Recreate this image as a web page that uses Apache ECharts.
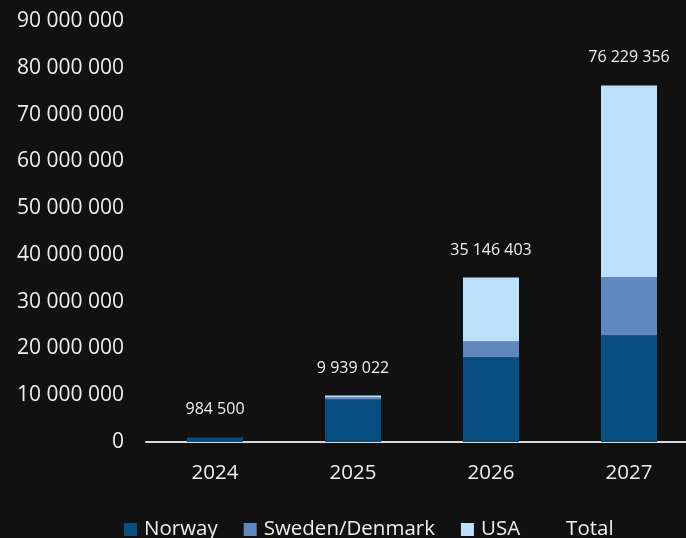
<!DOCTYPE html>
<html>
<head>
<meta charset="utf-8">
<script src="https://cdn.jsdelivr.net/npm/echarts@6/dist/echarts.min.js"></script>
<style>
html,body{margin:0;padding:0;background:#111111;overflow:hidden;}
#c{width:698px;height:538px;}
</style>
</head>
<body>
<div id="c"></div>
<script>
const categories = ['2024', '2025', '2026', '2027'];
const norway = [984500, 9100000, 18100000, 22800000];
const swedenDenmark = [0, 420000, 3400000, 12400000];
const usa = [0, 419022, 13646403, 41029356];
const totals = [984500, 9939022, 35146403, 76229356];
const seriesNames = ['Norway', 'Sweden/Denmark', 'USA', 'Total'];

const FONT = '"Open Sans", "Liberation Sans", sans-serif';
function fmt(v) {
  return String(Math.round(v)).replace(/\B(?=(\d{3})+(?!\d))/g, ' ');
}

const chart = echarts.init(document.getElementById('c'), null, {renderer: 'canvas'});
chart.setOption({
  backgroundColor: '#111111',
  animation: false,
  grid: {left: 146, right: 0, top: 21, height: 421, containLabel: false},
  legend: {
    left: 119, top: 514,
    itemWidth: 13, itemHeight: 13, itemGap: 26,
    icon: 'rect',
    textStyle: {color: '#eeeeee', fontSize: 20.5, fontFamily: FONT, padding: [0, 0, 0, 2]},
    data: [
      {name: seriesNames[0]},
      {name: seriesNames[1]},
      {name: seriesNames[2]},
      {name: seriesNames[3], itemStyle: {color: 'transparent', opacity: 0}, lineStyle: {opacity: 0}}
    ]
  },
  xAxis: {
    type: 'category',
    data: categories,
    axisLine: {show: true, lineStyle: {color: '#d9d9d9', width: 2}},
    axisTick: {show: false},
    axisLabel: {color: '#eeeeee', fontSize: 20.5, fontFamily: FONT, margin: 21}
  },
  yAxis: {
    type: 'value',
    min: 0, max: 90000000, interval: 10000000,
    splitLine: {show: false},
    axisLine: {show: false},
    axisTick: {show: false},
    axisLabel: {color: '#eeeeee', fontSize: 21, fontFamily: FONT, margin: 22, formatter: v => fmt(v)}
  },
  series: [
    {name: seriesNames[0], type: 'bar', stack: 's', data: norway, barWidth: 56, itemStyle: {color: '#064f80'}},
    {name: seriesNames[1], type: 'bar', stack: 's', data: swedenDenmark, barWidth: 56, itemStyle: {color: '#5f88c0'}},
    {name: seriesNames[2], type: 'bar', stack: 's', data: usa, barWidth: 56, itemStyle: {color: '#bde0fb'}},
    {
      name: seriesNames[3], type: 'line', data: totals,
      symbol: 'circle', symbolSize: 1,
      itemStyle: {color: 'transparent'},
      lineStyle: {width: 0, opacity: 0},
      label: {show: true, position: 'top', distance: 19, color: '#eeeeee', fontSize: 16, fontFamily: FONT, formatter: p => fmt(p.value)},
      z: 5
    }
  ]
});
</script>
</body>
</html>
